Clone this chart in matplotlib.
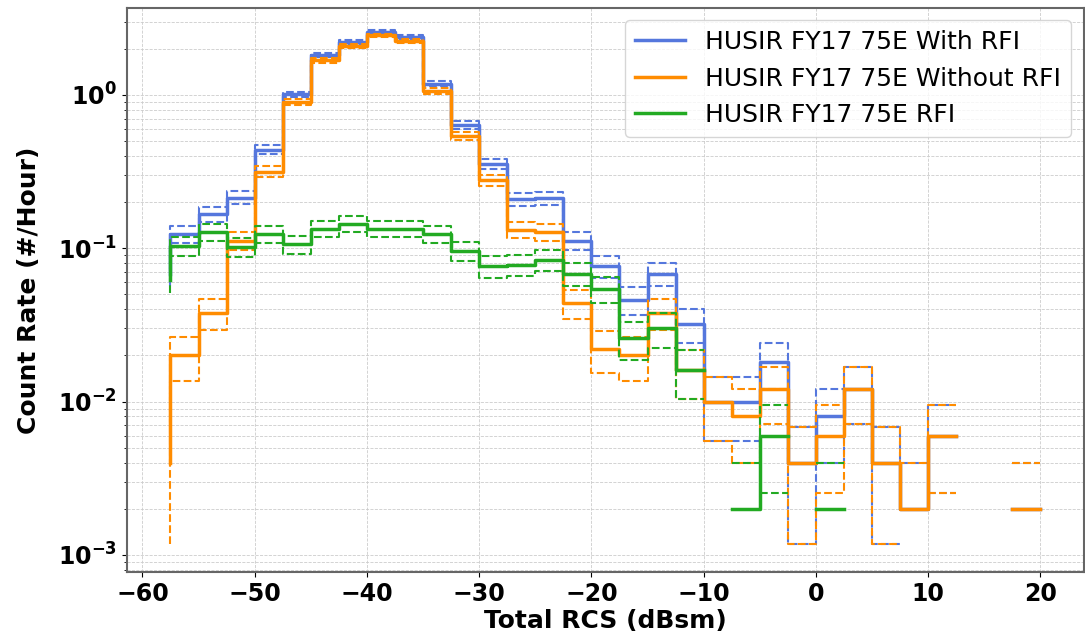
import numpy as np
import matplotlib.pyplot as plt

# bin edges (dBsm); first count in each list is the point drawn at the left edge
rcs_edges = [-57.5, -55, -52.5, -50, -47.5, -45, -42.5, -40, -37.5, -35, -32.5,
             -30, -27.5, -25, -22.5, -20, -17.5, -15, -12.5, -10, -7.5, -5,
             -2.5, 0, 2.5, 5, 7.5, 10, 12.5, 15, 17.5, 20]

hours = 500.0

with_rfi = [34, 62, 83, 107, 220, 503, 907, 1112, 1287, 1197, 592, 318, 177, 105,
            106, 56, 38, 23, 34, 16, 5, 5, 9, 2, 4, 6, 2, 1, 3, 0, 0, 1]
without_rfi = [2, 10, 19, 56, 158, 450, 840, 1040, 1220, 1130, 530, 270, 139, 66,
               64, 22, 11, 10, 19, 8, 5, 4, 6, 2, 3, 6, 2, 1, 3, 0, 0, 1]
rfi_only = [31, 52, 64, 51, 62, 53, 67, 72, 67, 67, 62, 48, 38, 39, 42, 34, 27,
            13, 15, 8, 0, 1, 3, 0, 1, 0, 0, 0, 0, 0, 0, 0]

labels = ['HUSIR FY17 75E With RFI', 'HUSIR FY17 75E Without RFI', 'HUSIR FY17 75E RFI']
colors = ['#5577dd', 'darkorange', '#22aa22']

plt.rcParams['font.weight'] = 'bold'

fig, ax = plt.subplots(figsize=(10.85, 6.43), dpi=100)
fig.subplots_adjust(left=0.117, right=0.999, top=0.988, bottom=0.11)


def nz(a):
    a = np.asarray(a, dtype=float)
    a[a <= 0] = np.nan
    return a


handles = []
for counts, col, lab in zip([with_rfi, without_rfi, rfi_only], colors, labels):
    n = np.asarray(counts, dtype=float)
    rate = nz(n / hours)
    hi = nz((n + np.sqrt(n)) / hours)
    lo = nz((n - np.sqrt(n)) / hours)
    h, = ax.step(rcs_edges, rate, where='pre', color=col, lw=2.5, label=lab)
    ax.step(rcs_edges, hi, where='pre', color=col, lw=1.5, ls='--')
    ax.step(rcs_edges, lo, where='pre', color=col, lw=1.5, ls='--')
    handles.append(h)

ax.set_yscale('log')
ax.set_ylim(7.7e-4, 3.7)
ax.set_xticks([-60, -50, -40, -30, -20, -10, 0, 10, 20])
ax.grid(which='both', ls='--', color='0.8', lw=0.6)
ax.tick_params(labelsize=17)
for lab in ax.get_xticklabels() + ax.get_yticklabels():
    lab.set_fontweight('bold')
for s in ax.spines.values():
    s.set_color('0.4')
    s.set_linewidth(1.5)

ax.set_xlabel('Total RCS (dBsm)', fontsize=18, fontweight='bold', labelpad=2)
ax.set_ylabel('Count Rate (#/Hour)', fontsize=18, fontweight='bold', labelpad=12)
ax.legend(handles=handles, loc='upper right', prop={'size': 18, 'weight': 'normal'})

fig.savefig('out.png', dpi=100)
